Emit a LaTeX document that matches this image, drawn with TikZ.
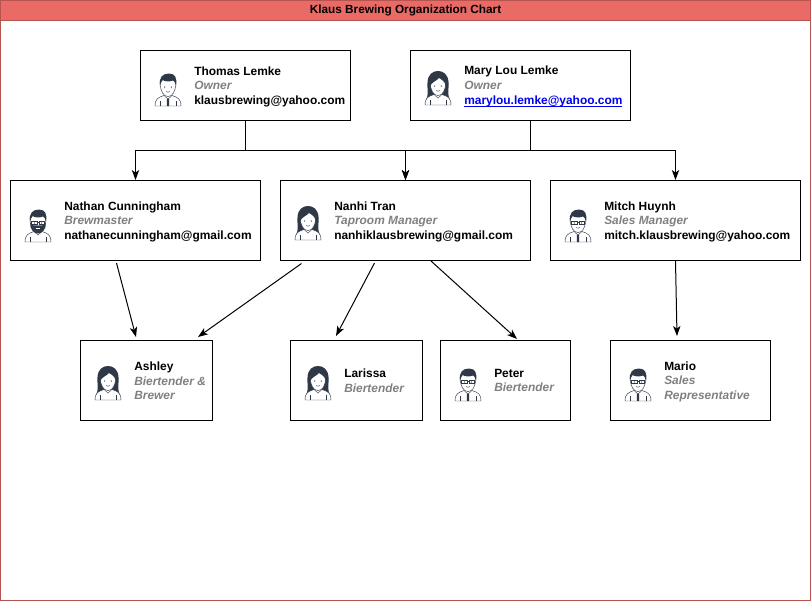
\documentclass[tikz,border=0pt]{standalone}
\usepackage{fontspec}
\setmainfont{Liberation Sans}
\usetikzlibrary{arrows.meta}
\definecolor{framered}{RGB}{184,84,80}
\definecolor{titlered}{RGB}{234,107,102}
\definecolor{rolegray}{RGB}{128,128,128}
\definecolor{linkblue}{RGB}{0,0,238}
\definecolor{hairdark}{RGB}{47,56,70}
\newcommand{\jobtitle}[1]{{\color{rolegray}\itshape #1}}
\newcommand{\maillink}[1]{{\color{linkblue}\underline{\smash{#1}}}\vphantom{y}}
\tikzset{
  personbox/.style={draw=black,line width=0.75pt,rectangle,inner sep=0pt},
  persontext/.style={anchor=west,inner sep=0pt,align=left,font=\bfseries\fontsize{8.95}{10.9}\selectfont},
  link/.style={draw=black,line width=0.75pt,-{Stealth[length=7.5pt,width=5.5pt,inset=2pt]}},
  trunk/.style={draw=black,line width=0.75pt},
  face/.style={draw=hairdark,line width=0.35pt,fill=white},
  thinline/.style={draw=hairdark,line width=0.3pt},
  hair/.style={fill=hairdark,draw=none},
}
% avatar parts, in pixels round the centre of the figure
\newcommand{\avtorso}{
  \path[face] (-13,18) .. controls (-13,11) and (-10,9.5) .. (-4,7.5) -- (4,7.5) .. controls (10,9.5) and (13,11) .. (13,18) -- cycle;
  \path[thinline] (-8,18) -- (-8,13) (8,18) -- (8,13);
  \path[thinline] (-4,7.5) -- (0,11) -- (4,7.5);
}
\newcommand{\avtie}{
  \path[hair] (-1,10.5) -- (1,10.5) -- (1.2,18) -- (-1.2,18) -- cycle;
}
\newcommand{\avhead}{
  \path[face] (-7.5,-5) .. controls (-8,4) and (-4,8.5) .. (0,8.5) .. controls (4,8.5) and (8,4) .. (7.5,-5) .. controls (6,-12) and (-6,-12) .. (-7.5,-5) -- cycle;
}
\newcommand{\avmouth}{
  \path[thinline] (-2,3.5) .. controls (-1,4.5) and (1,4.5) .. (2,3.5);
}
\newcommand{\aveyes}{
  \fill[hairdark] (-3.3,-1) circle (0.7) (3.3,-1) circle (0.7);
}
\newcommand{\avglasses}{
  \path[thinline,line width=0.55pt] (-6.5,-2.8) rectangle (-1,0.8) (1,-2.8) rectangle (6.5,0.8) (-1,-1.5) -- (1,-1.5);
  \fill[hairdark] (-3.5,-1) circle (0.55) (3.5,-1) circle (0.55);
}
\newcommand{\avshorthair}{
  \path[hair] (-8,-2) .. controls (-9.5,-11) and (-5,-14.5) .. (1,-14.5) .. controls (7,-14.5) and (9.5,-10) .. (8,-2) .. controls (7.5,-5) and (6.5,-7) .. (5,-7.5) .. controls (1,-6) and (-3,-6.5) .. (-5.5,-8) .. controls (-6.5,-6.5) and (-7.5,-5) .. (-8,-2) -- cycle;
}
\newcommand{\avlonghair}{
  \path[hair] (-12,13) .. controls (-9,8) and (-11,2) .. (-10.5,-5) .. controls (-10,-13) and (-5,-16) .. (0,-16) .. controls (5,-16) and (10,-13) .. (10.5,-5) .. controls (11,2) and (9,8) .. (12,13) .. controls (8,13) and (6,11) .. (4,9) -- (-4,9) .. controls (-6,11) and (-8,13) .. (-12,13) -- cycle;
}
\newcommand{\avfringe}{
  \path[hair] (-8,-1) .. controls (-8.5,-8) and (-5,-11.5) .. (0,-11.5) .. controls (5,-11.5) and (8.5,-8) .. (8,-1) .. controls (7,-5) and (4,-7.5) .. (1,-9) .. controls (-1,-6.5) and (-6,-5) .. (-8,-1) -- cycle;
}
\newcommand{\avbeard}{
  \path[hair] (-7.8,-1) .. controls (-8.5,5) and (-4,9.5) .. (0,9.5) .. controls (4,9.5) and (8.5,5) .. (7.8,-1) .. controls (6.5,1.5) and (3,2) .. (0,1.5) .. controls (-3,2) and (-6.5,1.5) .. (-7.8,-1) -- cycle;
  \path[draw=white,line width=0.35pt] (-2,4.5) -- (2,4.5);
}
\newcommand{\manavatar}[1]{\begin{scope}[shift={(#1)}]\avtorso\avtie\avhead\avshorthair\aveyes\avmouth\end{scope}}
\newcommand{\womanavatar}[1]{\begin{scope}[shift={(#1)}]\avlonghair\avtorso\avhead\avfringe\aveyes\avmouth\end{scope}}
\newcommand{\beardavatar}[1]{\begin{scope}[shift={(#1)}]\avtorso\avhead\avshorthair\avbeard\avglasses\end{scope}}
\newcommand{\glassesavatar}[1]{\begin{scope}[shift={(#1)}]\avtorso\avtie\avhead\avshorthair\avglasses\avmouth\end{scope}}
\begin{document}
\begin{tikzpicture}[x=0.75pt,y=0.75pt,yscale=-1,xscale=1]
\useasboundingbox (0,0) rectangle (811,601);

% Frame and title
\node (frame) [draw=framered,line width=0.75pt,minimum width=607.5pt,minimum height=450pt,inner sep=0pt] at (405.5,300.5) {};
\node (titlebar) [draw=framered,fill=titlered,line width=0.75pt,minimum width=607.5pt,minimum height=15pt,inner sep=0pt,font=\bfseries\fontsize{8.85}{10.9}\selectfont] at (405.5,10.5) {Klaus Brewing Organization Chart};

% Boxes
\node (thomas) [personbox,minimum width=157.5pt,minimum height=52.5pt] at (245.5,85.5) {};
\node (marylou) [personbox,minimum width=165pt,minimum height=52.5pt] at (520.5,85.5) {};
\node (nathan) [personbox,minimum width=187.5pt,minimum height=60pt] at (135.5,220.5) {};
\node (nanhi) [personbox,minimum width=187.5pt,minimum height=60pt] at (405.5,220.5) {};
\node (mitch) [personbox,minimum width=187.5pt,minimum height=60pt] at (675.5,220.5) {};
\node (ashley) [personbox,minimum width=99pt,minimum height=60pt] at (146.5,380.5) {};
\node (larissa) [personbox,minimum width=99pt,minimum height=60pt] at (356.5,380.5) {};
\node (peter) [personbox,minimum width=97.5pt,minimum height=60pt] at (505.5,380.5) {};
\node (mario) [personbox,minimum width=120pt,minimum height=60pt] at (690.5,380.5) {};

% Text Node
\node (thomastext) [persontext] at (194,86.5) {Thomas Lemke\\\jobtitle{Owner}\\klausbrewing@yahoo.com};
\node (maryloutext) [persontext] at (464,86.5) {Mary Lou Lemke\\\jobtitle{Owner}\\\maillink{marylou.lemke@yahoo.com}};
\node (nathantext) [persontext] at (64,221.5) {Nathan Cunningham\\\jobtitle{Brewmaster}\\nathanecunningham@gmail.com};
\node (nanhitext) [persontext] at (334,221.5) {Nanhi Tran\\\jobtitle{Taproom Manager}\\nanhiklausbrewing@gmail.com};
\node (mitchtext) [persontext] at (604,221.5) {Mitch Huynh\\\jobtitle{Sales Manager}\\mitch.klausbrewing@yahoo.com};
\node (ashleytext) [persontext] at (134,381) {Ashley\\\jobtitle{Biertender \&}\\\jobtitle{Brewer}};
\node (larissatext) [persontext] at (344,380.5) {Larissa\\\jobtitle{Biertender}};
\node (petertext) [persontext] at (494,380.5) {Peter\\\jobtitle{Biertender}};
\node (mariotext) [persontext] at (664,381.8) {Mario\\\jobtitle{Sales}\\\jobtitle{Representative}};

% Avatars
\manavatar{168,88}
\womanavatar{438,87}
\beardavatar{38,224}
\womanavatar{308,222}
\glassesavatar{578,224}
\womanavatar{108,382}
\womanavatar{318,382}
\glassesavatar{468,383}
\glassesavatar{638,383}

% Connector ends
\coordinate (thomasbus) at (245.5,150.5);
\coordinate (marydrop) at (530.5,120.5);
\coordinate (marybus) at (530.5,150.5);
\coordinate (nathanout) at (116.5,263);
\coordinate (ashleyin) at (136,337);
\coordinate (nanhioutl) at (301.5,263.5);
\coordinate (ashleyinr) at (198,337);
\coordinate (nanhioutm) at (374.5,263);
\coordinate (larissain) at (336,336);
\coordinate (nanhioutr) at (431,261);
\coordinate (peterin) at (517,339);
\coordinate (mitchout) at (675.5,261);
\coordinate (marioin) at (677,336);

% Connectors
\draw[trunk] (thomas.south) -- (thomasbus);
\draw[trunk] (marydrop) -- (marybus);
\draw[link] (thomasbus) -| (nathan.north);
\draw[link] (thomasbus) -| (nanhi.north);
\draw[link] (marybus) -| (nanhi.north);
\draw[link] (marybus) -| (mitch.north);
\draw[link] (nathanout) -- (ashleyin);
\draw[link] (nanhioutl) -- (ashleyinr);
\draw[link] (nanhioutm) -- (larissain);
\draw[link] (nanhioutr) -- (peterin);
\draw[link] (mitchout) -- (marioin);

\end{tikzpicture}
\end{document}
